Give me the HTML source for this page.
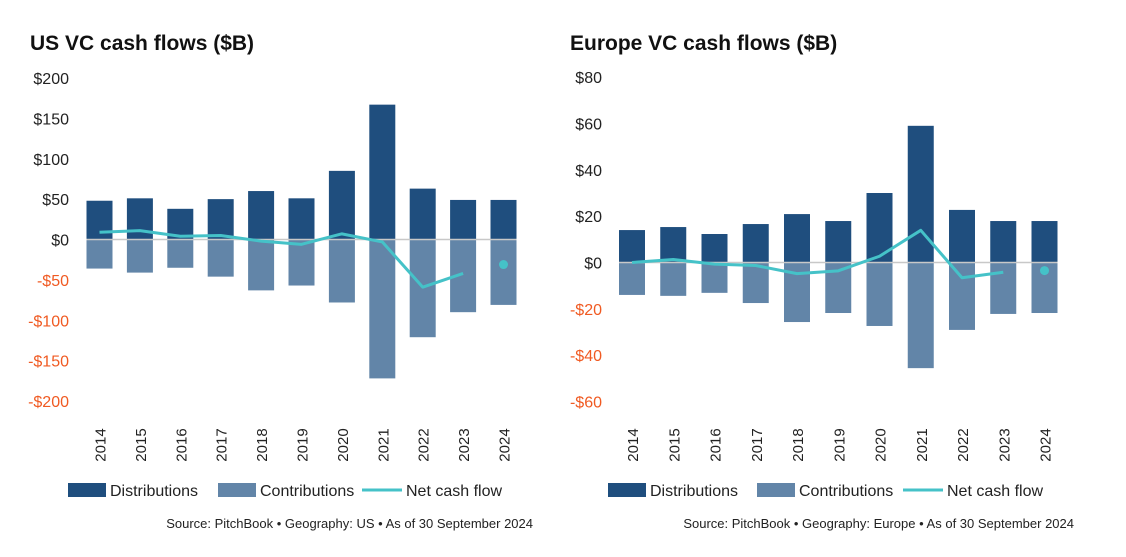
<!DOCTYPE html>
<html><head><meta charset="utf-8"><style>
body{margin:0;background:#fff;width:1126px;height:552px;overflow:hidden;font-family:"Liberation Sans",sans-serif}
svg text{font-family:"Liberation Sans",sans-serif}
</style></head><body>
<svg id="chart" width="1126" height="552"></svg>
<script>
const years=["2014","2015","2016","2017","2018","2019","2020","2021","2022","2023","2024"];
const usDist=[48,51,38,50,60,51,85,167,63,49,49];
const usContrib=[-36,-41,-35,-46,-63,-57,-78,-172,-121,-90,-81];
const usNet=[9,11,4,5,-2,-6,7,-3,-59,-42,null];
const usNet2024=-31;
const usTicks=[200,150,100,50,0,-50,-100,-150,-200];
const euDist=[14,15.3,12.3,16.6,20.9,17.9,30,59,22.7,17.9,17.9];
const euContrib=[-14,-14.4,-13.1,-17.5,-25.7,-21.8,-27.4,-45.6,-29.1,-22.2,-21.8];
const euNet=[0,1.3,-0.7,-1.3,-4.8,-3.6,2.7,13.9,-6.6,-4.2,null];
const euNet2024=-3.5;
const euTicks=[80,60,40,20,0,-20,-40,-60];

const NS="http://www.w3.org/2000/svg";
const svg=document.getElementById("chart");
function mk(tag,attrs,parent){const e=document.createElementNS(NS,tag);for(const k in attrs)e.setAttribute(k,attrs[k]);(parent||svg).appendChild(e);return e;}

function drawChart(cfg){
  const g=mk("g",{});
  
  
  const y=v=>cfg.y0+(v-0)*(cfg.yMin-cfg.y0)/(cfg.vMin-0);
  const cx=i=>cfg.x0+i*cfg.step;
  const t=mk("text",{x:cfg.titleX,y:50,"font-size":21,"font-weight":"bold",fill:"#111"},g);
  t.textContent=cfg.title;
  
  
  cfg.ticks.forEach(v=>{
    const tx=mk("text",{x:cfg.labelX,y:y(v)+6,"font-size":16,"text-anchor":"end",fill:v<0?"#f05a22":"#222"},g);
    tx.textContent=(v<0?"-$":"$")+Math.abs(v);
    
    
  });
  const bw=26;
  years.forEach((yr,i)=>{
    const d=mk("rect",{x:cx(i)-bw/2,y:y(cfg.dist[i]),width:bw,height:y(0)-y(cfg.dist[i]),fill:"#1f4e7e"},g);
    
    
    const c=mk("rect",{x:cx(i)-bw/2,y:y(0),width:bw,height:y(cfg.contrib[i])-y(0),fill:"#6285a8"},g);
    
    
    const l=mk("text",{transform:`translate(${cx(i)+6},${cfg.yearY}) rotate(-90)`,"font-size":15,"text-anchor":"middle",fill:"#222"},g);
    l.textContent=yr;
    
    
  });
  const z=mk("line",{x1:cx(0)-bw/2,x2:cx(10)+bw/2,y1:y(0),y2:y(0),stroke:"#c8c8c8","stroke-width":1.5},g);
  
  
  const pts=[];cfg.net.forEach((v,i)=>{if(v!==null)pts.push(cx(i)+","+y(v));});
  const p=mk("polyline",{points:pts.join(" "),fill:"none",stroke:"#45c2c8","stroke-width":3,"stroke-linejoin":"round"},g);
  
  
  const dt=mk("circle",{cx:cx(10),cy:y(cfg.net2024),r:4.5,fill:"#45c2c8"},g);
  
  
  const L=cfg.legend;
  const lg=mk("g",{},g);
  
  
  const r1=mk("rect",{x:L[0],y:483,width:38,height:14,fill:"#1f4e7e"},lg);
  
  
  const t1=mk("text",{x:L[0]+42,y:496,"font-size":16,fill:"#222"},lg);t1.textContent="Distributions";
  
  
  const r2=mk("rect",{x:L[1],y:483,width:38,height:14,fill:"#6285a8"},lg);
  
  
  const t2=mk("text",{x:L[1]+42,y:496,"font-size":16,fill:"#222"},lg);t2.textContent="Contributions";
  
  
  const r3=mk("line",{x1:L[2],x2:L[2]+40,y1:490,y2:490,stroke:"#45c2c8","stroke-width":3},lg);
  
  
  const t3=mk("text",{x:L[2]+44,y:496,"font-size":16,fill:"#222"},lg);t3.textContent="Net cash flow";
  
  
  const s=mk("text",{x:cfg.srcX,y:528,"font-size":13,"text-anchor":"end",fill:"#222","xml:space":"preserve"},g);
  s.textContent=cfg.source;
  
  
}
drawChart({name:"us-vc-chart",title:"US VC cash flows ($B)",titleX:30,dist:usDist,contrib:usContrib,net:usNet,net2024:usNet2024,ticks:usTicks,
  y0:239.5,vMin:-200,yMin:401,x0:99.5,step:40.4,labelX:69,yearY:445,legend:[68,218,362],srcX:533,
  source:"Source: PitchBook  \u2022  Geography: US  \u2022  As of 30 September 2024"});
drawChart({name:"europe-vc-chart",title:"Europe VC cash flows ($B)",titleX:570,dist:euDist,contrib:euContrib,net:euNet,net2024:euNet2024,ticks:euTicks,
  y0:262.5,vMin:-60,yMin:401.5,x0:632,step:41.25,labelX:602,yearY:445,legend:[608,757,903],srcX:1074,
  source:"Source: PitchBook  \u2022  Geography: Europe  \u2022  As of 30 September 2024"});
</script>
</body></html>
